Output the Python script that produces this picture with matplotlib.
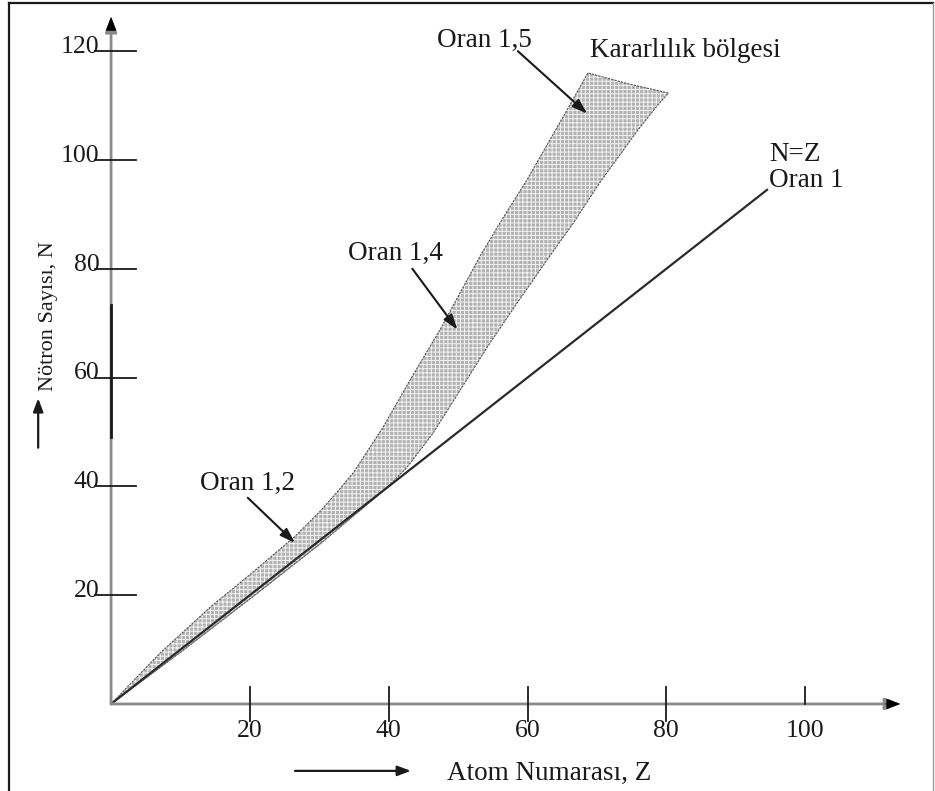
import matplotlib
matplotlib.use("Agg")
import matplotlib.pyplot as plt
from matplotlib.lines import Line2D

plt.rcParams["font.family"] = ["Liberation Serif", "DejaVu Serif"]
plt.rcParams["hatch.linewidth"] = 0.7

# Stability band: upper boundary (neutron-rich side) and lower boundary
upper_z = [0, 7.1, 14.3, 20.5, 26.5, 30.1, 32.6, 34.9, 39.2, 43.1, 47.4, 50.3, 53.2, 56.1, 59.9, 65.7, 68.7]
upper_n = [0, 9.4, 17.8, 24.3, 30.8, 35.4, 39.0, 42.5, 50.9, 59.6, 68.8, 75.6, 82.4, 88.6, 96.3, 109.2, 116.0]
top_z = [68.7, 74.5, 80.3]
top_n = [116.0, 114.0, 112.3]
lower_z = [80.3, 78.7, 75.9, 70.5, 66.6, 62.8, 58.5, 54.2, 50.3, 46.4, 42.7, 39.9, 30.0, 20.0, 10.0, 0]
lower_n = [112.3, 110.0, 105.5, 96.0, 88.4, 81.6, 73.7, 65.6, 57.7, 49.8, 43.6, 39.9, 29.3, 19.3, 9.5, 0]

# N = Z reference line
line_z = [0, 94.5]
line_n = [0, 94.5]

x_ticks = [20, 40, 60, 80, 100]
y_ticks = [20, 40, 60, 80, 100, 120]

fig = plt.figure(figsize=(9.35, 7.91), dpi=100)
ax = fig.add_axes([0, 0, 1, 1])
ax.set_xlim(-16.0, 118.7)
ax.set_ylim(-16.0, 129.4)
ax.axis("off")

# Outer frame
fig.add_artist(Line2D([9 / 935, 9 / 935], [0, 1 - 3 / 791], transform=fig.transFigure, color="#1a1a1a", lw=1.6))
fig.add_artist(Line2D([9 / 935, 933 / 935], [1 - 3 / 791, 1 - 3 / 791], transform=fig.transFigure, color="#1a1a1a", lw=1.6))
fig.add_artist(Line2D([933 / 935, 933 / 935], [0, 1 - 3 / 791], transform=fig.transFigure, color="#9a9a9a", lw=1.0))

# Band polygon
poly_z = upper_z + top_z[1:] + lower_z[1:]
poly_n = upper_n + top_n[1:] + lower_n[1:]
ax.fill(poly_z, poly_n, facecolor="#b3b3b3", edgecolor="none", zorder=2)
ax.fill(poly_z, poly_n, facecolor="none", edgecolor="#f2f2f2", hatch="++++", lw=0, zorder=2.1)
ax.plot(poly_z, poly_n, color="#555555", lw=0.8, ls=(0, (2, 1)), zorder=2.2,
        solid_joinstyle="round")
ax.plot(lower_z[11:], lower_n[11:], color="#777777", lw=0.6, zorder=2.2)

# N = Z line
ax.plot(line_z, line_n, color="#2a2a2a", lw=1.6, zorder=3)

# Axes with arrowheads
axis_kw = dict(arrowstyle="-|>,head_length=0.9,head_width=0.35", color="#8a8a8a", lw=2.0,
               shrinkA=0, shrinkB=0)
ax.annotate("", xy=(113.7, 0), xytext=(0, 0), arrowprops=dict(axis_kw), zorder=4)
ax.annotate("", xy=(0, 126.3), xytext=(0, 0), arrowprops=dict(axis_kw), zorder=4)
head_kw = dict(arrowstyle="-|>,head_length=0.9,head_width=0.35", color="black", lw=0.5,
               shrinkA=0, shrinkB=0)
ax.annotate("", xy=(113.7, 0), xytext=(111.5, 0), arrowprops=head_kw, zorder=5)
ax.annotate("", xy=(0, 126.3), xytext=(0, 124.0), arrowprops=head_kw, zorder=5)
# darker stretch of the vertical axis
ax.plot([0, 0], [49.1, 73.3], color="#1a1a1a", lw=2.0, zorder=4.5)

# Tick marks and labels
for v in x_ticks:
    lo = 0 if v == 100 else -3.1
    ax.plot([v, v], [lo, 3.1], color="#1a1a1a", lw=1.3, zorder=5)
    ax.text(v, -6.1, str(v), ha="center", va="baseline", fontsize=18.5, color="#1a1a1a")
for v in y_ticks:
    ax.plot([-2.3, 3.6], [v, v], color="#1a1a1a", lw=1.3, zorder=5)
    ax.text(-1.7, v - 0.35, str(v), ha="right", va="baseline", fontsize=18.5, color="#1a1a1a")

# Axis titles with direction arrows
ax.text(48.4, -14.0, "Atom Numarası, Z", ha="left", va="baseline", fontsize=19.5, color="#1a1a1a")
ax.annotate("", xy=(43.2, -12.3), xytext=(26.5, -12.3),
            arrowprops=dict(arrowstyle="-|>,head_length=0.8,head_width=0.3", color="#1a1a1a", lw=1.6,
                            shrinkA=0, shrinkB=0))
ax.text(-9.0, 57.5, "Nötron Sayısı, N", rotation=90, ha="center", va="bottom", fontsize=16,
        color="#1a1a1a")
ax.annotate("", xy=(-10.5, 56.2), xytext=(-10.5, 47.1),
            arrowprops=dict(arrowstyle="-|>,head_length=0.8,head_width=0.3", color="#1a1a1a", lw=1.6,
                            shrinkA=0, shrinkB=0))

# Labels and pointers
txt_kw = dict(fontsize=19.5, color="#1a1a1a", ha="left", va="baseline")
ax.text(47.0, 120.8, "Oran 1,5", **txt_kw)
ax.text(69.0, 118.9, "Kararlılık bölgesi", **txt_kw)
ax.text(94.8, 99.8, "N=Z", **txt_kw)
ax.text(94.8, 95.0, "Oran 1", **txt_kw)
ax.text(34.1, 81.6, "Oran 1,4", **txt_kw)
ax.text(12.8, 39.3, "Oran 1,2", **txt_kw)

ptr_kw = dict(arrowstyle="-|>,head_length=0.9,head_width=0.3", color="#1a1a1a", lw=1.5,
              shrinkA=0, shrinkB=0)
ax.annotate("", xy=(68.6, 108.5), xytext=(58.6, 120.0), arrowprops=ptr_kw, zorder=6)
ax.annotate("", xy=(49.9, 68.8), xytext=(43.4, 80.0), arrowprops=ptr_kw, zorder=6)
ax.annotate("", xy=(26.5, 29.6), xytext=(19.7, 37.9), arrowprops=ptr_kw, zorder=6)

fig.savefig("out.png", dpi=100)
